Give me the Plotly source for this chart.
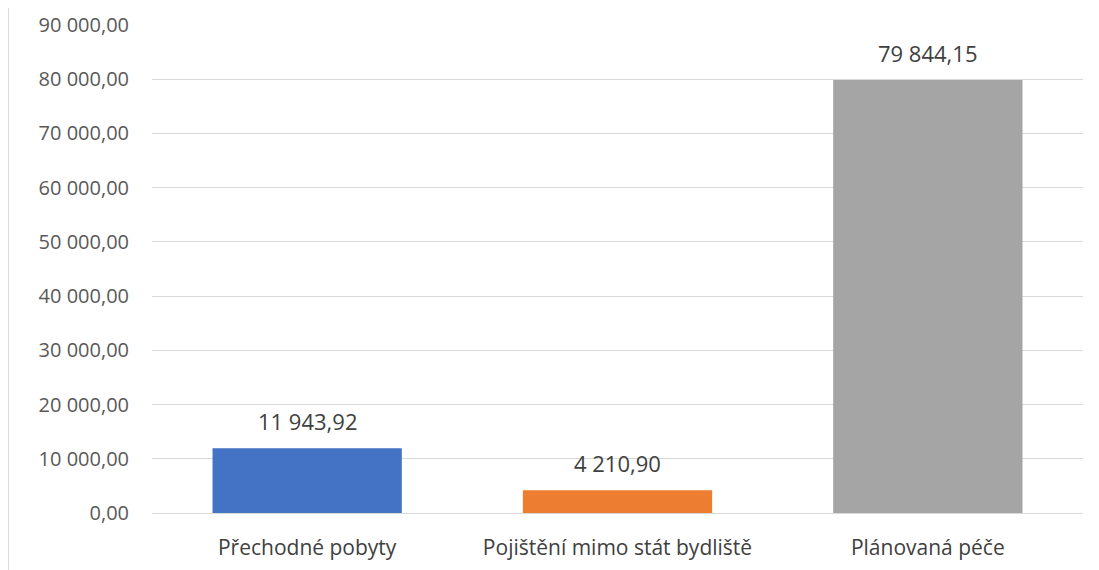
import plotly.graph_objects as go

categories = ["Přechodné pobyty", "Pojištění mimo stát bydliště", "Plánovaná péče"]
values = [11943.92, 4210.90, 79844.15]
colors = ["#4472C4", "#ED7D31", "#A5A5A5"]
y_ticks = [0, 10000, 20000, 30000, 40000, 50000, 60000, 70000, 80000, 90000]

FONT = "Open Sans, Lato, sans-serif"

fig = go.Figure()
fig.add_trace(go.Bar(
    x=categories,
    y=values,
    marker=dict(color=colors, line=dict(width=0)),
    hoverinfo="skip",
))

for c, v in zip(categories, values):
    fig.add_annotation(
        x=c, y=v, xref="x", yref="y",
        text=f"{v:,.2f}".replace(",", " ").replace(".", ","),
        showarrow=False, yshift=27,
        font=dict(family=FONT, size=22, color="#404040"),
    )

fig.update_layout(
    width=1099, height=570,
    margin=dict(l=144, r=24, t=17, b=65),
    paper_bgcolor="white", plot_bgcolor="white",
    separators=", ",
    bargap=0.39,
    showlegend=False,
    font=dict(family=FONT, color="#595959"),
    xaxis=dict(
        automargin=False,
        showgrid=False, showline=False, zeroline=False,
        ticks="outside", ticklen=16, tickcolor="rgba(0,0,0,0)",
        tickfont=dict(size=21, color="#404040"),
    ),
    yaxis=dict(
        automargin=False,
        range=[0, 90000],
        tickvals=y_ticks,
        tickformat=",.2f",
        showgrid=True, gridcolor="#D9D9D9", gridwidth=1,
        zeroline=True, zerolinecolor="#D9D9D9", zerolinewidth=1,
        showline=False,
        ticks="outside", ticklen=18, tickcolor="rgba(0,0,0,0)",
        tickfont=dict(size=20, color="#595959"),
    ),
    shapes=[dict(type="line", xref="paper", yref="paper",
                 x0=-0.1547, x1=-0.1547, y0=-0.2, y1=1.1,
                 line=dict(color="#D9D9D9", width=2))],
)

fig.write_html("out.html")
